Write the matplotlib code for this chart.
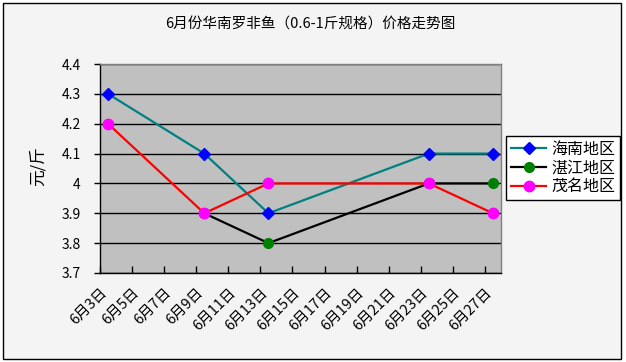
import numpy as np
import matplotlib
matplotlib.use('Agg')
import matplotlib.pyplot as plt
from matplotlib.patches import Rectangle

plt.rcParams['font.family'] = ['Noto Sans CJK SC', 'DejaVu Sans']

# data (day of June, price in yuan/jin)
days = [3, 9, 13, 23, 27]
hainan = [4.3, 4.1, 3.9, 4.1, 4.1]
zhanjiang = [np.nan, 3.9, 3.8, 4.0, 4.0]
maoming = [4.2, 3.9, 4.0, 4.0, 3.9]
series_names = ['海南地区', '湛江地区', '茂名地区']

tick_days = [3, 5, 7, 9, 11, 13, 15, 17, 19, 21, 23, 25, 27]
tick_labels = ['6月%d日' % d for d in tick_days]
yticks = [3.7, 3.8, 3.9, 4.0, 4.1, 4.2, 4.3, 4.4]
ylabels = ['3.7', '3.8', '3.9', '4', '4.1', '4.2', '4.3', '4.4']

fig = plt.figure(figsize=(6.26, 3.62), dpi=100)
fig.patch.set_facecolor('white')
# chart frame like the spreadsheet chart area
fig.patches.append(Rectangle((3/626, 3/362), 618/626, 356/362, transform=fig.transFigure,
                             facecolor='#f4f4f4', edgecolor='black', lw=1, zorder=-1))

ax = fig.add_axes([100/626, 1-273/362, 401/626, 209/362])
ax.set_facecolor('#c0c0c0')

# date axis: one slot per day, point in the middle of the slot
x = np.array(days) - 3 + 0.5
ax.plot(x, hainan, color='#008080', lw=1.6, marker='D', ms=6.5, mfc='#0000ff', mec='#0000ff', label=series_names[0], zorder=3)
ax.plot(x, zhanjiang, color='black', lw=1.6, marker='o', ms=7, mfc='#008000', mec='#008000', label=series_names[1], zorder=4)
ax.plot(x, maoming, color='#ff0000', lw=1.6, marker='o', ms=7.5, mfc='#ff00ff', mec='#ff00ff', label=series_names[2], zorder=5)

ax.set_xlim(0, 25)
ax.set_ylim(3.7, 4.4)
ax.set_yticks(yticks)
ax.set_yticklabels(ylabels, fontsize=10)
ax.set_xticks(np.array(tick_days) - 3)
ax.set_xticklabels(tick_labels, rotation=45, ha='right', rotation_mode='anchor', fontsize=10.5)
ax.tick_params(axis='x', direction='in', length=5, width=1, pad=9)
ax.tick_params(axis='y', direction='out', length=4, width=1, pad=10)
ax.yaxis.grid(True, color='black', lw=1)
ax.set_axisbelow(True)
for s in ['left', 'bottom']:
    ax.spines[s].set_color('black')
    ax.spines[s].set_linewidth(1)
for s in ['top', 'right']:
    ax.spines[s].set_color('#808080')
    ax.spines[s].set_linewidth(1)

fig.text(38/626, 1-166/362, '元/斤', rotation=90, fontsize=12, ha='center', va='center')
fig.text(310/626, 1-25/362, '6月份华南罗非鱼（0.6-1斤规格）价格走势图', fontsize=10.5, ha='center', va='center')

leg = fig.legend(loc='center', bbox_to_anchor=(563/626, 1-168/362), fontsize=11.5, frameon=True,
                 fancybox=False, edgecolor='black', framealpha=1, handlelength=2.2,
                 handletextpad=0.3, labelspacing=0.1, borderpad=0.3, borderaxespad=0)
leg.get_frame().set_linewidth(1)

fig.savefig('out.png', dpi=100)
